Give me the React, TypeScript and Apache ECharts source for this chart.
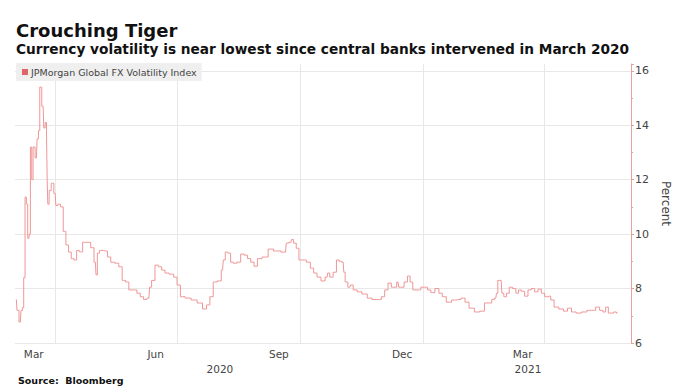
import React, { useEffect, useRef } from "react";
import * as echarts from "echarts";

const START_DATE = "2020-03-02";
const END_DATE = "2021-06-05";

const monthLabelDates = ["2020-03-16", "2020-06-15", "2020-09-15", "2020-12-16", "2021-03-16"];
const monthLabels = ["Mar", "Jun", "Sep", "Dec", "Mar"];
const yearLabelDates = ["2020-08-02", "2021-03-20"];
const yearLabels = ["2020", "2021"];
const gridLineDates = ["2020-04-01", "2020-07-01", "2020-10-01", "2021-01-01", "2021-04-01"];

const dates = [
  "2020-03-03","2020-03-04","2020-03-06","2020-03-07","2020-03-08","2020-03-09","2020-03-10","2020-03-11","2020-03-12","2020-03-13","2020-03-14","2020-03-15","2020-03-16","2020-03-18","2020-03-19","2020-03-20","2020-03-21","2020-03-23","2020-03-24","2020-03-25","2020-03-26","2020-03-26","2020-03-27","2020-03-28","2020-03-30",
  "2020-04-01","2020-04-02","2020-04-04","2020-04-06","2020-04-08","2020-04-10","2020-04-12","2020-04-14","2020-04-16","2020-04-18","2020-04-20","2020-04-23","2020-04-26","2020-04-29",
  "2020-05-01","2020-05-02","2020-05-03","2020-05-05","2020-05-09","2020-05-11","2020-05-14","2020-05-17","2020-05-20","2020-05-22","2020-05-25","2020-05-27","2020-05-31",
  "2020-06-02","2020-06-05","2020-06-07","2020-06-10","2020-06-11","2020-06-13","2020-06-16","2020-06-18","2020-06-21","2020-06-23","2020-06-27","2020-06-30",
  "2020-07-02","2020-07-05","2020-07-09","2020-07-14","2020-07-18","2020-07-22","2020-07-24","2020-07-27","2020-07-29",
  "2020-08-02","2020-08-04","2020-08-05","2020-08-07","2020-08-09","2020-08-11","2020-08-13","2020-08-16","2020-08-19","2020-08-21","2020-08-24","2020-08-26","2020-08-29","2020-08-31",
  "2020-09-05","2020-09-09","2020-09-13","2020-09-20","2020-09-21","2020-09-24","2020-09-25","2020-09-27","2020-09-29",
  "2020-10-01","2020-10-04","2020-10-07","2020-10-10","2020-10-12","2020-10-15","2020-10-18","2020-10-21","2020-10-22","2020-10-24","2020-10-27","2020-10-29","2020-10-31",
  "2020-11-02","2020-11-03","2020-11-04","2020-11-07","2020-11-08","2020-11-11","2020-11-14","2020-11-18","2020-11-22","2020-11-25","2020-11-29",
  "2020-12-02","2020-12-04","2020-12-07","2020-12-09","2020-12-11","2020-12-13","2020-12-14","2020-12-16","2020-12-19","2020-12-21","2020-12-23","2020-12-25","2020-12-29","2020-12-31",
  "2021-01-03","2021-01-05","2021-01-08","2021-01-11","2021-01-14","2021-01-16","2021-01-20","2021-01-24","2021-01-27","2021-01-31",
  "2021-02-02","2021-02-06","2021-02-10","2021-02-14","2021-02-17","2021-02-20","2021-02-22","2021-02-24","2021-02-25","2021-02-26","2021-02-28",
  "2021-03-01","2021-03-03","2021-03-05","2021-03-07","2021-03-10","2021-03-12","2021-03-14","2021-03-16","2021-03-19","2021-03-21","2021-03-24","2021-03-26","2021-03-29","2021-03-31",
  "2021-04-03","2021-04-05","2021-04-07","2021-04-10","2021-04-14","2021-04-17","2021-04-20","2021-04-23","2021-04-27",
  "2021-05-01","2021-05-05","2021-05-08","2021-05-11","2021-05-14","2021-05-16","2021-05-18","2021-05-20","2021-05-22","2021-05-24","2021-05-26",
];

const values = [
  7.6, 7.2, 6.77, 7.2, 7.3, 8.4, 11.36, 11.1, 9.85, 10.0, 13.2, 12.0, 13.2, 12.8, 13.5, 13.8, 15.4, 14.7, 13.9, 14.1, 13.8, 12.0, 11.1, 11.6, 11.87,
  11.5, 11.05, 11.1, 11.0, 10.1, 9.6, 9.34, 9.1, 9.05, 9.4, 9.35, 9.7, 9.7, 9.5,
  8.97, 8.5, 9.3, 9.4, 9.38, 9.16, 8.97, 8.93, 8.8, 8.3, 8.24, 7.95, 7.95,
  7.83, 7.7, 7.6, 7.65, 8.05, 8.3, 8.86, 8.8, 8.68, 8.57, 8.53, 8.42,
  8.13, 7.7, 7.65, 7.58, 7.47, 7.25, 7.4, 7.7, 8.24,
  8.28, 8.68, 9.05, 9.34, 9.3, 8.97, 8.93, 8.97, 9.27, 9.23, 9.1, 8.97, 8.82, 9.1,
  9.16, 9.45, 9.38, 9.34, 9.67, 9.7, 9.8, 9.67, 9.48,
  9.05, 9.05, 8.97, 8.75, 8.57, 8.42, 8.28, 8.42, 8.57, 8.42, 8.6, 9.05, 9.0,
  8.97, 8.6, 8.24, 8.05, 8.13, 7.95, 7.88, 7.8, 7.65, 7.6, 7.6,
  7.7, 7.95, 8.2, 8.05, 8.05, 8.24, 8.05, 8.05, 8.24, 8.46, 8.24, 7.95, 7.95, 8.05,
  8.05, 7.95, 7.85, 8.0, 7.83, 7.7, 7.5, 7.58, 7.6, 7.65,
  7.5, 7.28, 7.14, 7.17, 7.47, 7.47, 7.6, 7.65, 7.83, 8.3, 8.3,
  7.83, 7.7, 7.83, 8.05, 8.0, 7.83, 7.95, 7.9, 7.72, 7.95, 8.0, 7.88, 7.98, 7.83,
  7.7, 7.72, 7.58, 7.32, 7.25, 7.17, 7.28, 7.14, 7.1,
  7.14, 7.2, 7.2, 7.32, 7.2, 7.14, 7.32, 7.1, 7.1, 7.14, 7.1,
];

const SERIES_NAME = "JPMorgan Global FX Volatility Index";
const TITLE = "Crouching Tiger";
const SUBTITLE = "Currency volatility is near lowest since central banks intervened in March 2020";
const SOURCE = "Source:  Bloomberg";
const Y_NAME = "Percent";

function buildDays(start: string, end: string): string[] {
  const out: string[] = [];
  const d = new Date(start + "T00:00:00Z");
  const e = new Date(end + "T00:00:00Z");
  while (d.getTime() <= e.getTime()) {
    out.push(d.toISOString().slice(0, 10));
    d.setUTCDate(d.getUTCDate() + 1);
  }
  return out;
}

const FONT = "DejaVu Sans";

export default function App() {
  const ref = useRef<HTMLDivElement>(null);
  useEffect(() => {
    if (!ref.current) return;
    const chart = echarts.init(ref.current, null, { renderer: "svg" });
    const categories = buildDays(START_DATE, END_DATE);
    const monthMap: Record<string, string> = {};
    monthLabelDates.forEach((d, i) => (monthMap[d] = monthLabels[i]));
    const yearMap: Record<string, string> = {};
    yearLabelDates.forEach((d, i) => (yearMap[d] = yearLabels[i]));
    const gridSet = new Set(gridLineDates);

    const labelBase = { fontFamily: FONT, fontSize: 10.5, color: "#444" };

    chart.setOption({
      animation: false,
      backgroundColor: "#ffffff",
      textStyle: { fontFamily: FONT },
      title: [
        {
          text: TITLE,
          left: 16,
          top: 21,
          padding: 0,
          textStyle: { fontFamily: FONT, fontWeight: "bold", fontSize: 18, color: "#111" },
        },
        {
          text: SUBTITLE,
          left: 16,
          top: 42,
          padding: 0,
          textStyle: { fontFamily: FONT, fontWeight: "bold", fontSize: 13.7, color: "#111" },
        },
        {
          text: SOURCE,
          left: 18,
          top: 375,
          padding: 0,
          textStyle: { fontFamily: FONT, fontWeight: "bold", fontSize: 9.5, color: "#111" },
        },
      ],
      legend: {
        left: 16,
        top: 63,
        padding: [4, 5, 4, 6],
        backgroundColor: "#efefef",
        itemWidth: 6,
        itemHeight: 6,
        itemGap: 4,
        icon: "rect",
        data: [{ name: SERIES_NAME, itemStyle: { color: "#e06666" } }],
        textStyle: { fontFamily: FONT, fontSize: 9.5, color: "#444", padding: [0, 0, 0, -2] },
      },
      grid: { left: 15, right: 43, top: 64, bottom: 46, containLabel: false },
      xAxis: [
        {
          type: "category",
          data: categories,
          boundaryGap: false,
          axisLine: { show: false },
          axisTick: { show: false },
          axisLabel: {
            ...labelBase,
            interval: (_i: number, v: string) => v in monthMap,
            formatter: (v: string) => monthMap[v] || "",
            margin: 5,
          },
          splitLine: {
            show: true,
            interval: (_i: number, v: string) => gridSet.has(v),
            lineStyle: { color: "#e8e8e8", width: 1 },
          },
        },
        {
          type: "category",
          data: categories,
          boundaryGap: false,
          position: "bottom",
          offset: 15,
          axisLine: { show: false },
          axisTick: { show: false },
          splitLine: { show: false },
          axisLabel: {
            ...labelBase,
            interval: (_i: number, v: string) => v in yearMap,
            formatter: (v: string) => yearMap[v] || "",
            margin: 5,
          },
        },
      ],
      yAxis: {
        type: "value",
        position: "right",
        min: 6,
        max: 16.25,
        interval: 2,
        name: Y_NAME,
        nameLocation: "middle",
        nameRotate: -90,
        nameGap: 24,
        nameTextStyle: { fontFamily: FONT, fontSize: 12, color: "#444" },
        axisLine: { show: true, lineStyle: { color: "#e8a0a0", width: 1 } },
        axisTick: { show: true, length: 3, lineStyle: { color: "#e8a0a0" } },
        minorTick: { show: true, splitNumber: 2, length: 2, lineStyle: { color: "#e8a0a0" } },
        axisLabel: {
          fontFamily: FONT,
          fontSize: 11,
          color: "#444",
          margin: 4,
          showMaxLabel: false,
          formatter: (v: number) => (Number.isInteger(v) ? String(v) : ""),
        },
        splitLine: { show: true, showMaxLine: false, lineStyle: { color: "#e8e8e8", width: 1 } },
      },
      series: [
        {
          name: SERIES_NAME,
          type: "line",
          xAxisIndex: 0,
          data: dates.map((d, i) => [d, values[i]]),
          showSymbol: false,
          symbol: "none",
          step: "middle",
          lineStyle: { color: "#ef9696", width: 1 },
          itemStyle: { color: "#e06666" },
        },
      ],
    });
    return () => chart.dispose();
  }, []);
  return <div ref={ref} style={{ width: 680, height: 389, position: "absolute", left: 0, top: 0 }} />;
}
